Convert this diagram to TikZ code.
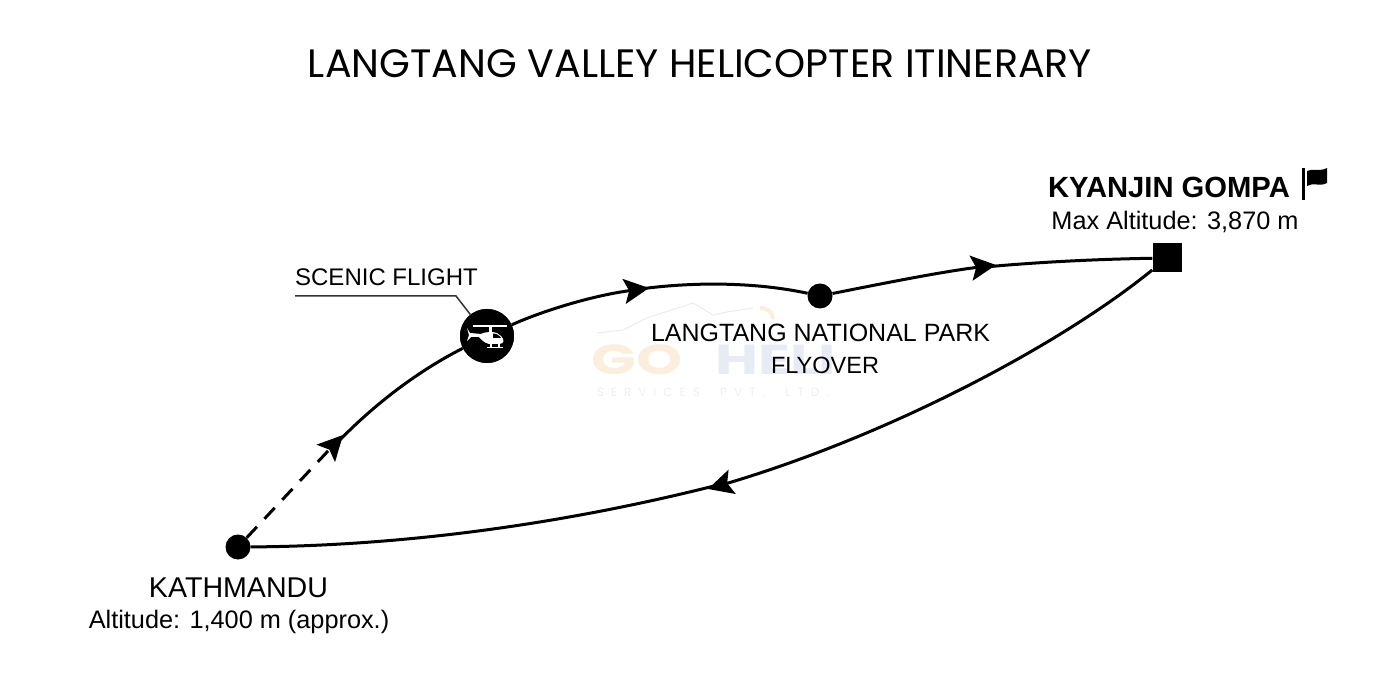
\documentclass[tikz,border=0pt]{standalone}
\usepackage{fontspec}
\setmainfont{Liberation Sans}
\newfontfamily\titlefont{Poppins}
\newfontfamily\markfont{Poppins}[LetterSpace=58]
\usetikzlibrary{arrows.meta}
\definecolor{markorange}{HTML}{FCEEDD}
\definecolor{markblue}{HTML}{E7EBF4}
\definecolor{markgrey}{HTML}{EFEFEF}
\tikzset{
	route/.style={line width=3pt},
	tipped/.style={route,-{Stealth[length=25pt,width=25pt,inset=5pt]}},
	stop/.style={circle,fill=black,inner sep=0pt,minimum size=25pt},
	place/.style={inner sep=0pt,font=\fontsize{25}{30}\selectfont},
	note/.style={inner sep=0pt,font=\fontsize{25.3}{30}\selectfont},
	markword/.style={inner sep=0pt,xscale=1.4,transform shape,font=\titlefont\bfseries\fontsize{42}{42}\selectfont},
}
\begin{document}
\begin{tikzpicture}[x=1pt,y=-1pt]
	\useasboundingbox (0,0) rectangle (1400,700);

	% watermark
	\draw[line width=1pt,color=markblue] (597,333) -- (623,330) -- (647,318) -- (693,303) -- (713,315) -- (727,312) -- (753,308);
	\draw[line width=4pt,color=markorange] (760,308) .. controls (768,308) and (773,313) .. (773,319);
	\node[markword,color=markorange] (wmgo) at (637,360) {GO};
	\node[markword,color=markblue] (wmheli) at (776,360) {HELI};
	\node[inner sep=0pt,color=markgrey,font=\markfont\fontsize{12}{12}\selectfont] (wmltd) at (713,392) {SERVICES\ \ PVT.\ \ LTD.};

	\node[inner sep=0pt,font=\titlefont\fontsize{39.6}{44}\selectfont] (title) at (700,64) {LANGTANG VALLEY HELICOPTER ITINERARY};

	\node[stop] (kath) at (238,547) {};
	\node[stop,minimum size=54pt] (heli) at (487,336) {};
	\node[stop] (park) at (820,296) {};
	\node[fill=black,inner sep=0pt,minimum size=29pt] (gompa) at (1167,258) {};
	\coordinate (tipa) at (343,435);
	\coordinate (tipb) at (649,288);
	\coordinate (tipc) at (996,265);
	\coordinate (tipd) at (708,489);

	\draw[tipped,dash pattern=on 15pt off 11pt] (kath) -- (tipa);
	\draw[route] (335,445) .. controls (375,403) and (420,370) .. (heli);
	\draw[tipped] (heli) .. controls (540,312) and (590,296) .. (tipb);
	\draw[route] (640,289) .. controls (700,281) and (760,283) .. (park);
	\draw[tipped] (park) .. controls (880,284) and (940,272) .. (tipc);
	\draw[route] (985,267) .. controls (1050,261) and (1110,259) .. (gompa);
	\draw[tipped] (gompa) .. controls (1060,345) and (890,435) .. (tipd);
	\draw[route] (718,485) .. controls (560,525) and (400,546) .. (kath);

	\coordinate (leadera) at (295,296);
	\coordinate (leaderb) at (456,296);
	\draw[line width=1.5pt,color=black!80] (leadera) -- (leaderb) -- (heli);
	\node[stop,minimum size=54pt] (helidisc) at (heli) {};

	% helicopter
	\begin{scope}[shift={(heli)}]
		\fill[white] (-14,-10.5) rectangle (20,-8.5);
		\fill[white] (2,-9) rectangle (4.5,-3);
		\fill[white] (-20,-8) -- (-17,-3) -- (-6,-2) .. controls (0,-5) and (10,-5) .. (14,0) .. controls (18,4) and (17,8) .. (12,8) -- (2,8) .. controls (-3,7) and (-6,3) .. (-8,1) -- (-16,1) -- (-20,5) -- (-18,-1) -- cycle;
		\fill[black] (6,-2.5) .. controls (10,-2.5) and (13,0) .. (14,2) -- (6,2) -- cycle;
		\fill[white] (0,11) rectangle (16,12.5);
		\fill[white] (3,8) rectangle (4.5,11);
		\fill[white] (11,8) rectangle (12.5,11);
	\end{scope}

	\node[note,font=\fontsize{24}{30}\selectfont] (scenic) at (386.5,277) {SCENIC FLIGHT};
	\node[place] (parkname) at (820.5,333) {LANGTANG NATIONAL PARK};
	\node[place,font=\fontsize{23.5}{30}\selectfont] (parkfly) at (825,365) {FLYOVER};
	\node[place,font=\fontsize{28.6}{30}\selectfont] (kathname) at (238.5,588) {KATHMANDU};
	\node[note] (kathalt) at (239,621.5) {Altitude: 1,400 m (approx.)};
	\node[place,font=\bfseries\fontsize{29.2}{34}\selectfont] (gompaname) at (1169,187) {KYANJIN GOMPA};
	\node[note] (gompaalt) at (1175,221.5) {Max Altitude: 3,870 m};

	% flag
	\fill (1302,168) rectangle (1304.5,200);
	\fill (1307,171) .. controls (1313,168) and (1320,172) .. (1327,168) -- (1327,183) .. controls (1320,187) and (1313,182) .. (1307,186) -- cycle;
\end{tikzpicture}
\end{document}
